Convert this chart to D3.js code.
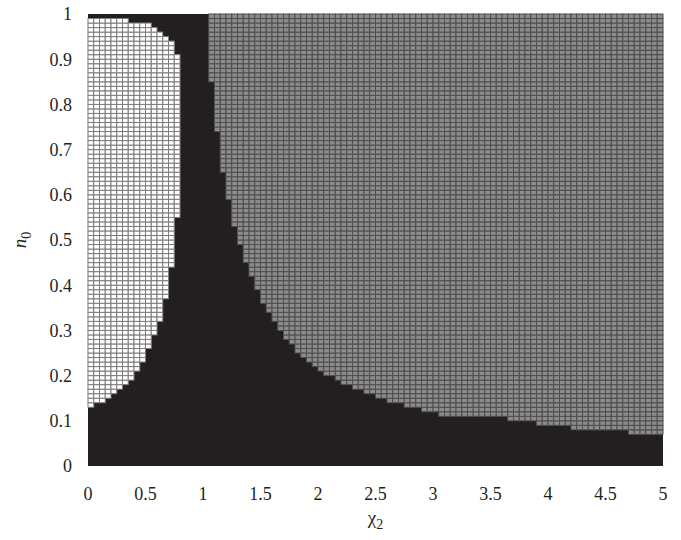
<!DOCTYPE html>
<html>
<head>
    <title>phase diagram</title>
    <script src="https://d3js.org/d3.v7.min.js"></script>
    <style>
        body { margin: 0; background: #fff; }
        text { font-family: "Liberation Serif", "DejaVu Serif", serif; fill: #231f20; }
    </style>
</head>
<body>
    <svg width="681" height="540" id="mainsvg"></svg>
    <script>
        // grid: 100 columns in chi2 (step 0.05), 100 rows in n0 (step 0.01)
        const nCols = 100, nRows = 100;
        const xTicks = [0, 0.5, 1, 1.5, 2, 2.5, 3, 3.5, 4, 4.5, 5];
        const yTicks = [0, 0.1, 0.2, 0.3, 0.4, 0.5, 0.6, 0.7, 0.8, 0.9, 1];

        // white region, columns 0..15: lower and upper n0 bounds
        const whiteLow = [0.13, 0.14, 0.14, 0.15, 0.16, 0.17, 0.18, 0.19,
                          0.21, 0.23, 0.26, 0.29, 0.32, 0.37, 0.44, 0.55];
        const whiteHigh = [0.99, 0.99, 0.99, 0.99, 0.99, 0.99, 0.99, 0.98,
                           0.98, 0.98, 0.98, 0.97, 0.96, 0.95, 0.94, 0.91];

        // grey region starts at column 21 and fills from grayLow up to 1
        const grayStart = 21;
        const grayLow = [0.85, 0.74, 0.65, 0.59, 0.53, 0.49, 0.45, 0.42, 0.39, 0.36,
                         0.34, 0.32, 0.30, 0.28, 0.27, 0.25, 0.24, 0.23, 0.22, 0.21,
                         0.20, 0.20, 0.19, 0.18, 0.18, 0.17, 0.17, 0.16, 0.16, 0.15,
                         0.15, 0.14, 0.14, 0.14, 0.13, 0.13, 0.13, 0.12, 0.12, 0.12,
                         0.11, 0.11, 0.11, 0.11, 0.11, 0.11, 0.11, 0.11, 0.11, 0.11,
                         0.11, 0.11, 0.10, 0.10, 0.10, 0.10, 0.10, 0.09, 0.09, 0.09,
                         0.09, 0.09, 0.09, 0.08, 0.08, 0.08, 0.08, 0.08, 0.08, 0.08,
                         0.08, 0.08, 0.08, 0.07, 0.07, 0.07, 0.07, 0.07, 0.07];

        const svg = d3.select('#mainsvg');
        const margin = { top: 14, right: 18, bottom: 74, left: 88 };
        const width = +svg.attr('width'), height = +svg.attr('height');

        const x = d3.scaleLinear().domain([0, 5])
            .range([margin.left, width - margin.right]);
        const y = d3.scaleLinear().domain([0, 1])
            .range([height - margin.bottom, margin.top]);

        const dx = 5 / nCols, dy = 1 / nRows;

        const cells = [];
        for (let i = 0; i < nCols; i++) {
            for (let j = 0; j < nRows; j++) {
                let state = 'black';
                if (i < whiteLow.length &&
                    j >= Math.round(whiteLow[i] * 100) && j < Math.round(whiteHigh[i] * 100)) {
                    state = 'white';
                }
                if (i >= grayStart && j >= Math.round(grayLow[i - grayStart] * 100)) {
                    state = 'gray';
                }
                cells.push({ i, j, state });
            }
        }

        const g = svg.append('g');

        // black background of the plot
        g.append('rect')
            .attr('x', x(0)).attr('y', y(1))
            .attr('width', x(5) - x(0)).attr('height', y(0) - y(1))
            .attr('fill', '#231f20');

        const fills = { white: '#ffffff', gray: '#8c8c8c' };
        const strokes = { white: '#7c7c7c', gray: '#4e4e4e' };

        g.selectAll('rect.cell')
            .data(cells.filter(d => d.state !== 'black'))
            .join('rect')
            .attr('class', 'cell')
            .attr('x', d => x(d.i * dx))
            .attr('y', d => y((d.j + 1) * dy))
            .attr('width', x(dx) - x(0))
            .attr('height', y(0) - y(dy))
            .attr('fill', d => fills[d.state])
            .attr('stroke', d => strokes[d.state])
            .attr('stroke-width', 1);

        // tick labels
        svg.append('g').selectAll('text')
            .data(xTicks)
            .join('text')
            .attr('x', d => x(d))
            .attr('y', height - margin.bottom + 34)
            .attr('text-anchor', 'middle')
            .attr('font-size', 18)
            .text(d => d);

        svg.append('g').selectAll('text')
            .data(yTicks)
            .join('text')
            .attr('x', margin.left - 16)
            .attr('y', d => y(d))
            .attr('dy', '0.35em')
            .attr('text-anchor', 'end')
            .attr('font-size', 18)
            .text(d => d);

        // axis titles
        const xt = svg.append('text')
            .attr('x', (x(0) + x(5)) / 2)
            .attr('y', height - 16)
            .attr('text-anchor', 'middle')
            .attr('font-size', 19);
        xt.append('tspan').text('χ');
        xt.append('tspan').attr('font-size', 14).attr('dy', 5).text('2');

        const yt = svg.append('text')
            .attr('transform', `translate(26,${(y(0) + y(1)) / 2}) rotate(-90)`)
            .attr('text-anchor', 'middle')
            .attr('font-size', 19);
        yt.append('tspan').attr('font-style', 'italic').text('n');
        yt.append('tspan').attr('font-size', 14).attr('dy', 5).text('0');
    </script>
</body>
</html>
